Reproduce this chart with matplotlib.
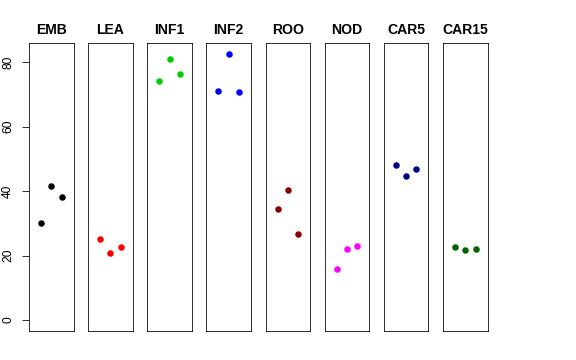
import matplotlib.pyplot as plt

plt.rcParams['font.family'] = ['Liberation Sans', 'DejaVu Sans']

groups = ['EMB', 'LEA', 'INF1', 'INF2', 'ROO', 'NOD', 'CAR5', 'CAR15']
colors = ['black', 'red', '#00cd00', 'blue', '#8b0000', 'magenta', '#00008b', '#006400']
values = [
    [30.1, 41.5, 38.1],
    [25.2, 20.7, 22.8],
    [74.2, 80.9, 76.3],
    [70.9, 82.5, 70.8],
    [34.4, 40.2, 26.6],
    [15.9, 22.1, 22.9],
    [48.2, 44.7, 46.8],
    [22.8, 21.6, 21.9],
]
reps = [1, 2, 3]

W, H = 576, 360
fig = plt.figure(figsize=(W / 72, H / 72), dpi=72)

ymax = max(max(v) for v in values)
pad = 0.04 * ymax

for i, (g, c, v) in enumerate(zip(groups, colors, values)):
    left = 29 + 59.15 * i
    ax = fig.add_axes([left / W, 29.3 / H, 44.5 / W, 287.4 / H])
    ax.plot(reps, v, 'o', color=c, ms=6.5, mec='none')
    ax.set_xlim(-0.16, 4.16)
    ax.set_ylim(-pad, ymax + pad)
    ax.set_xticks([])
    for s in ax.spines.values():
        s.set_linewidth(0.8)
    ax.set_title(g, fontsize=14, fontweight='bold', pad=9)
    if i == 0:
        ax.set_yticks([0, 20, 40, 60, 80])
        ax.tick_params(axis='y', length=7, width=0.8, pad=8, labelsize=12)
        for t in ax.get_yticklabels():
            t.set_rotation(90)
            t.set_va('center')
    else:
        ax.set_yticks([])

fig.savefig('out.png', dpi=72)
